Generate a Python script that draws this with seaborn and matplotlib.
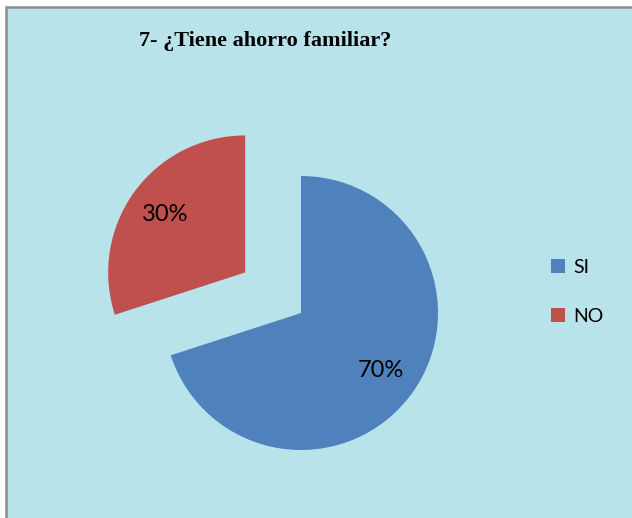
import matplotlib
matplotlib.use("Agg")
import matplotlib.pyplot as plt
import seaborn as sns
from matplotlib.patches import Rectangle

# data
labels = ["SI", "NO"]
values = [70, 30]
title = "7- ¿Tiene ahorro familiar?"

sns.set_theme(style="white")
plt.rcParams['font.family'] = ['Lato', 'DejaVu Sans']
plt.rcParams['text.color'] = 'black'
colors = sns.color_palette(["#4F81BD", "#C0504D"])

W, H = 632, 518
fig = plt.figure(figsize=(W / 100, H / 100), dpi=100)
fig.patch.set_facecolor("white")

ax = fig.add_axes([0, 0, 1, 1])
ax.axis("off")

# chart area background with grey border (left/top visible)
ax.add_patch(Rectangle((6, -10), W, H - 7 + 10, facecolor="#B8E3EB",
                       edgecolor="#8C8C8C", linewidth=1.8, zorder=0))

# explode is in data units here (radius = 137)
wedges, _, autotexts = ax.pie(values, colors=colors, startangle=90, counterclock=False,
                              explode=[0, 69], center=(301, H - 313), radius=137,
                              autopct=lambda p: f"{p:.0f}%", pctdistance=0.72,
                              textprops=dict(fontsize=17, color="black"),
                              wedgeprops=dict(linewidth=0, zorder=2))
for t in autotexts:
    t.set_zorder(3)
ax.set_xlim(0, W)
ax.set_ylim(0, H)
ax.set_aspect("auto")

ax.text(265, H - 41, title, ha="center", va="center", color="black",
        fontsize=16, fontweight="bold", family=["Liberation Serif", "DejaVu Serif"])

leg = ax.legend(wedges, labels, loc="center left", bbox_to_anchor=(551 / W, 1 - 292 / H),
                frameon=False, fontsize=14, handlelength=0.7, handleheight=0.7,
                handletextpad=0.45, labelspacing=1.65, borderpad=0, borderaxespad=0)
for t in leg.get_texts():
    t.set_color("black")

fig.savefig("out.png", dpi=100, facecolor=fig.get_facecolor())
